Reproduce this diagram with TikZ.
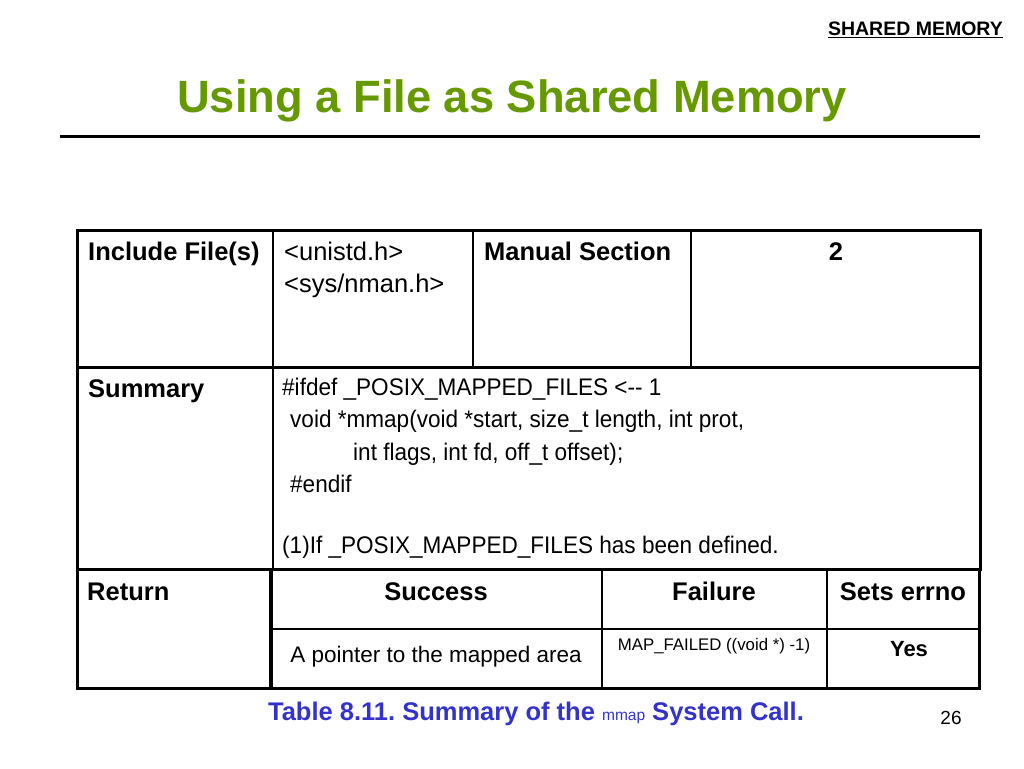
\documentclass[tikz,border=0pt]{standalone}
\usepackage{fontspec}
\setmainfont{Liberation Sans}
\definecolor{titlegreen}{RGB}{102,153,0}
\definecolor{capblue}{RGB}{51,51,204}
\frenchspacing
\begin{document}
\begin{tikzpicture}[x=1pt,y=-1pt,
  thick line/.style={line width=3pt},
  thin line/.style={line width=1.3pt},
  head cell/.style={anchor=base west,inner sep=0pt,font=\fontsize{25.5}{28}\selectfont\bfseries},
  body cell/.style={anchor=base west,inner sep=0pt,font=\fontsize{25.5}{28}\selectfont},
  code cell/.style={anchor=base west,inner sep=0pt,font=\fontsize{24}{28}\selectfont\addfontfeature{FakeStretch=0.94}},
  mid cell/.style={anchor=base,inner sep=0pt,font=\fontsize{25.5}{28}\selectfont\bfseries}]
  \useasboundingbox (0,0) rectangle (1024,768);

  % header
  \node[inner sep=0pt,anchor=base east,font=\fontsize{19.5}{22}\selectfont\bfseries] (head) at (1003,36) {\underline{SHARED MEMORY}};
  \node[inner sep=0pt,anchor=base,text=titlegreen,font=\fontsize{45.3}{50}\selectfont\bfseries] (title) at (512,112) {Using a File as Shared Memory};
  \draw[line width=3pt] (60,136) -- (980,136);

  % table rules
  \draw[thick line] (77,230) rectangle (980,367);
  \draw[thin line] (273,230) -- (273,367);
  \draw[thin line] (473,230) -- (473,367);
  \draw[thin line] (691,230) -- (691,367);
  \draw[thick line] (77,367) rectangle (980,569);
  \draw[thin line] (273,367) -- (273,569);
  \draw[thick line] (77,569) rectangle (979,688);
  \draw[line width=4pt] (271,569) -- (271,688);
  \draw[thin line] (602,569) -- (602,688);
  \draw[thin line] (827,569) -- (827,688);
  \draw[thin line] (271,629) -- (979,629);

  % row 1
  \node[head cell] (inc) at (88,260) {Include File(s)};
  \node[body cell] (unistd) at (284,260) {<unistd.h>};
  \node[body cell] (sysman) at (284,292) {<sys/nman.h>};
  \node[head cell] (manual) at (484,260) {Manual Section};
  \node[mid cell] (sect) at (836,260) {2};

  % row 2
  \node[head cell] (summ) at (88,397) {Summary};
  \node[code cell] (ifdef) at (282,395) {\#ifdef \_POSIX\_MAPPED\_FILES <-{}- 1};
  \node[code cell] (proto) at (290,427) {void *mmap(void *start, size\_t length, int prot,};
  \node[code cell] (args) at (353,460) {int flags, int fd, off\_t offset);};
  \node[code cell] (endif) at (290,492) {\#endif};
  \node[code cell] (note) at (282,553) {(1)If \_POSIX\_MAPPED\_FILES has been defined.};

  % row 3
  \node[head cell] (ret) at (87,600) {Return};
  \node[mid cell] (succ) at (436,600) {Success};
  \node[mid cell] (fail) at (714,600) {Failure};
  \node[mid cell] (errno) at (903,600) {Sets errno};
  \node[body cell,anchor=base,font=\fontsize{22.5}{26}\selectfont] (ptr) at (436,662) {A pointer to the mapped area};
  \node[body cell,anchor=base,font=\fontsize{16.8}{18}\selectfont] (mapf) at (714,650) {MAP\_FAILED ((void *) -1)};
  \node[mid cell,font=\fontsize{22}{24}\selectfont\bfseries] (yes) at (909,656) {Yes};

  % caption
  \node[inner sep=0pt,anchor=base,text=capblue,font=\fontsize{25.5}{28}\selectfont\bfseries] (cap) at (536,720)
    {Table 8.11. Summary of the {\fontsize{15.5}{16}\selectfont\mdseries mmap} System Call.};
  \node[inner sep=0pt,anchor=base,font=\fontsize{19}{22}\selectfont] (page) at (951,724) {26};
\end{tikzpicture}
\end{document}
